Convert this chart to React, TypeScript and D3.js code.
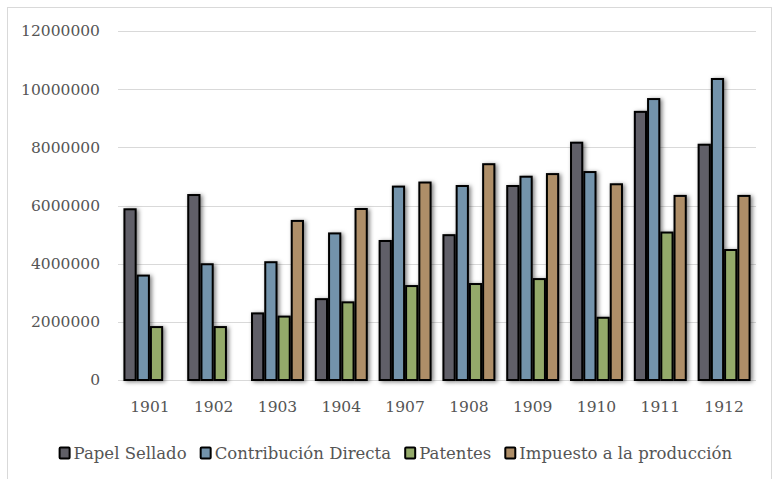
import React, { useEffect, useRef } from "react";
import * as d3 from "d3";

const categories = ["1901", "1902", "1903", "1904", "1907", "1908", "1909", "1910", "1911", "1912"];
const seriesNames = ["Papel Sellado", "Contribución Directa", "Patentes", "Impuesto a la producción"];
const papelSellado = [5870000, 6360000, 2290000, 2780000, 4780000, 4980000, 6670000, 8160000, 9220000, 8090000];
const contribucionDirecta = [3590000, 3980000, 4050000, 5040000, 6650000, 6670000, 6990000, 7150000, 9660000, 10350000];
const patentes = [1820000, 1820000, 2180000, 2670000, 3230000, 3300000, 3470000, 2140000, 5070000, 4470000];
const impuestoProduccion = [null, null, 5470000, 5880000, 6790000, 7420000, 7080000, 6730000, 6330000, 6330000];
const yTicks = [0, 2000000, 4000000, 6000000, 8000000, 10000000, 12000000];
const colors = ["#605f67", "#7393ab", "#94aa6a", "#ae8e68"];

const FONT = "'DejaVu Serif', serif";
const TEXT = "#555555";

export default function App() {
  const ref = useRef<SVGSVGElement>(null);
  useEffect(() => {
    const svg = d3.select(ref.current);
    svg.selectAll("*").remove();
    const W = 780, H = 479;
    const left = 118, right = 756, top = 31, bottom = 380;
    const series = [papelSellado, contribucionDirecta, patentes, impuestoProduccion];

    const defs = svg.append("defs");
    const f = defs.append("filter").attr("id", "shadow").attr("x", "-50%").attr("y", "-10%").attr("width", "200%").attr("height", "130%");
    f.append("feDropShadow").attr("dx", 2).attr("dy", 1).attr("stdDeviation", 2).attr("flood-color", "#000").attr("flood-opacity", 0.5);

    svg.append("rect").attr("x", 0).attr("y", 0).attr("width", W).attr("height", H).attr("fill", "#fff");
    svg.append("rect").attr("x", 7.5).attr("y", 7.5).attr("width", 764).attr("height", 490)
      .attr("fill", "#fff").attr("stroke", "#d9d9d9").attr("stroke-width", 1);

    const y = d3.scaleLinear().domain([0, 12000000]).range([bottom, top]);
    const x0 = d3.scaleBand().domain(categories).range([left, right]).paddingInner(0.17).paddingOuter(0.085);
    const x1 = d3.scaleBand().domain(seriesNames).range([0, x0.bandwidth()]).padding(0);

    const g = svg.append("g");
    g.selectAll("line.grid").data(yTicks).join("line")
      .attr("x1", left).attr("x2", right)
      .attr("y1", (d) => Math.round(y(d)) + 0.5).attr("y2", (d) => Math.round(y(d)) + 0.5)
      .attr("stroke", "#d9d9d9").attr("stroke-width", 1);

    g.selectAll("text.ytick").data(yTicks).join("text")
      .attr("x", 100).attr("y", (d) => y(d)).attr("dy", "0.35em")
      .attr("text-anchor", "end").attr("font-family", FONT).attr("font-size", 15.5).attr("fill", TEXT)
      .text((d) => String(d));

    g.selectAll("text.xtick").data(categories).join("text")
      .attr("x", (d) => (x0(d) as number) + x0.bandwidth() / 2).attr("y", 407).attr("dy", "0.35em")
      .attr("text-anchor", "middle").attr("font-family", FONT).attr("font-size", 15.5).attr("fill", TEXT)
      .text((d) => d);

    const bars: { cat: string; s: string; v: number; i: number }[] = [];
    categories.forEach((c, ci) => {
      series.forEach((arr, si) => {
        const v = arr[ci];
        if (v != null) bars.push({ cat: c, s: seriesNames[si], v, i: si });
      });
    });
    g.append("g").attr("filter", "url(#shadow)")
      .selectAll("rect").data(bars).join("rect")
      .attr("x", (d) => (x0(d.cat) as number) + (x1(d.s) as number) + 1)
      .attr("y", (d) => y(d.v))
      .attr("width", x1.bandwidth() - 2)
      .attr("height", (d) => bottom - y(d.v))
      .attr("fill", (d) => colors[d.i])
      .attr("stroke", "#000").attr("stroke-width", 2);

    // legend
    const lg = svg.append("g");
    const items = lg.selectAll("g").data(seriesNames).join("g");
    items.append("rect").attr("x", 0).attr("y", -5.5).attr("width", 10).attr("height", 11)
      .attr("fill", (d, i) => colors[i]).attr("stroke", "#000").attr("stroke-width", 2).attr("rx", 1);
    items.append("text").attr("x", 14).attr("y", 0).attr("dy", "0.35em")
      .attr("font-family", FONT).attr("font-size", 16.5).attr("fill", TEXT).text((d) => d);
    const widths: number[] = [];
    items.each(function () {
      widths.push((this as SVGGElement).getBBox().width);
    });
    const gap = 14;
    const total = d3.sum(widths) + gap * (widths.length - 1);
    let cx = 396 - total / 2;
    items.attr("transform", (d, i) => {
      const t = `translate(${cx},453)`;
      cx += widths[i] + gap;
      return t;
    });
  }, []);
  return (
    <svg ref={ref} width={780} height={479} style={{ position: "absolute", left: 0, top: 0 }} />
  );
}
